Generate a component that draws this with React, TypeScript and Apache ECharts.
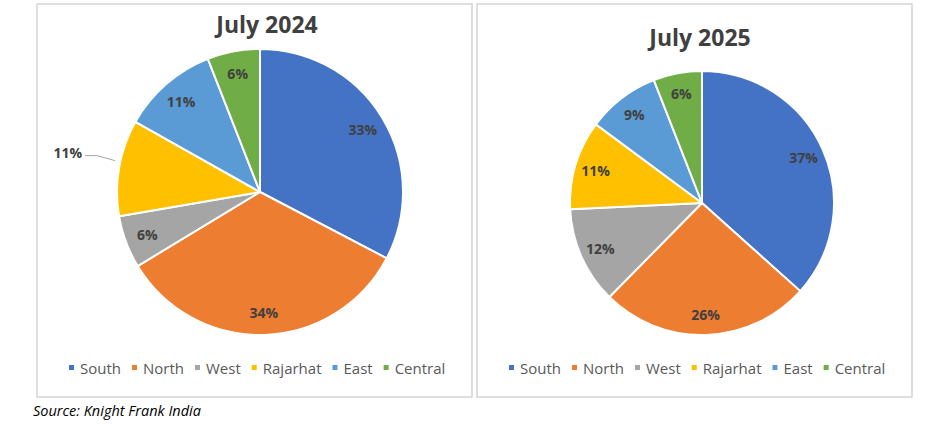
import React, { useEffect, useRef } from "react";
import * as echarts from "echarts";

const categories = ["South", "North", "West", "Rajarhat", "East", "Central"];
const colors = ["#4472C4", "#ED7D31", "#A5A5A5", "#FFC000", "#5B9BD5", "#70AD47"];
const values2024 = [33, 34, 6, 11, 11, 6];
const values2025 = [37, 26, 12, 11, 9, 6];
const titles = ["July 2024", "July 2025"];
const sourceText = "Source: Knight Frank India";

const FONT = "'Open Sans', 'Liberation Sans', sans-serif";

export default function App() {
  const ref = useRef<HTMLDivElement>(null);
  useEffect(() => {
    if (!ref.current) return;
    const chart = echarts.init(ref.current, null, { renderer: "svg" });

    const pies = [
      { values: values2024, center: [260, 192], r: 143, outside: ["Rajarhat"] },
      { values: values2025, center: [702, 203], r: 132, outside: [] as string[] },
    ];

    const series: any[] = [];
    pies.forEach((p) => {
      series.push({
        type: "pie",
        center: p.center,
        radius: [0, p.r],
        startAngle: 90,
        clockwise: true,
        silent: true,
        label: { show: false },
        labelLine: { show: false },
        itemStyle: { borderColor: "#ffffff", borderWidth: 2 },
        data: categories.map((c, i) => ({
          name: c,
          value: p.values[i],
          itemStyle: { color: colors[i] },
        })),
      });
    });
    pies.forEach((p) => {
      const s: any = {
        type: "pie",
        center: p.center,
        radius: [p.r * 0.64, p.r],
        startAngle: 90,
        clockwise: true,
        silent: true,
        z: 5,
        itemStyle: { color: "rgba(0,0,0,0)", borderWidth: 0 },
        label: {
          show: true,
          position: "inside",
          formatter: "{c}%",
          color: "#404040",
          fontFamily: FONT,
          fontWeight: "bold",
          fontSize: 14,
        },
        labelLine: { show: false },
        data: categories.map((c, i) => {
          const d: any = { name: c, value: p.values[i] };
          if (p.outside.includes(c)) {
            d.label = { position: "outside", distanceToLabelLine: 3 };
            d.labelLine = {
              show: true,
              length: 6,
              length2: 24,
              lineStyle: { color: "#a6a6a6", width: 1 },
            };
          }
          return d;
        }),
      };
      if (p.outside.length) {
        s.labelLayout = (params: any) => {
          if (!p.outside.includes(categories[params.dataIndex])) return {};
          const pts = params.labelLinePoints;
          if (!pts || !pts[0]) return {};
          const [x0, y0] = pts[0];
          return {
            x: x0 - 37,
            y: y0 - 15,
            align: "right",
            verticalAlign: "middle",
            labelLinePoints: [
              [x0 - 4, y0 - 7],
              [x0 - 22, y0 - 12],
              [x0 - 34, y0 - 12],
            ],
          };
        };
      }
      series.push(s);
    });

    const legendCommon = {
      orient: "horizontal",
      icon: "rect",
      itemWidth: 7,
      itemHeight: 7,
      itemGap: 9,
      top: 355,
      selectedMode: false,
      data: categories,
      textStyle: { color: "#595959", fontFamily: FONT, fontSize: 15 },
    };

    chart.setOption({
      animation: false,
      title: [
        {
          text: titles[0],
          left: 262,
          top: 7,
          textAlign: "center",
          textStyle: { fontFamily: FONT, fontWeight: "bold", fontSize: 23, color: "#404040" },
        },
        {
          text: titles[1],
          left: 695,
          top: 20,
          textAlign: "center",
          textStyle: { fontFamily: FONT, fontWeight: "bold", fontSize: 23, color: "#404040" },
        },
      ],
      legend: [
        { ...legendCommon, left: 62 },
        { ...legendCommon, left: 502 },
      ],
      graphic: [
        {
          type: "rect",
          shape: { x: 37, y: 4, width: 435, height: 393 },
          style: { fill: "none", stroke: "#d4d4d4", lineWidth: 1.5 },
          z: -1,
        },
        {
          type: "rect",
          shape: { x: 477, y: 4, width: 435, height: 393 },
          style: { fill: "none", stroke: "#d4d4d4", lineWidth: 1.5 },
          z: -1,
        },
        {
          type: "text",
          x: 33,
          y: 410,
          style: {
            text: sourceText,
            fontFamily: FONT,
            fontStyle: "italic",
            fontSize: 14.5,
            fill: "#000000",
            textVerticalAlign: "middle",
          },
        },
      ],
      series,
    });
    return () => chart.dispose();
  }, []);
  return (
    <div
      ref={ref}
      style={{ position: "fixed", left: 0, top: 0, width: 933, height: 430, background: "#ffffff" }}
    />
  );
}
